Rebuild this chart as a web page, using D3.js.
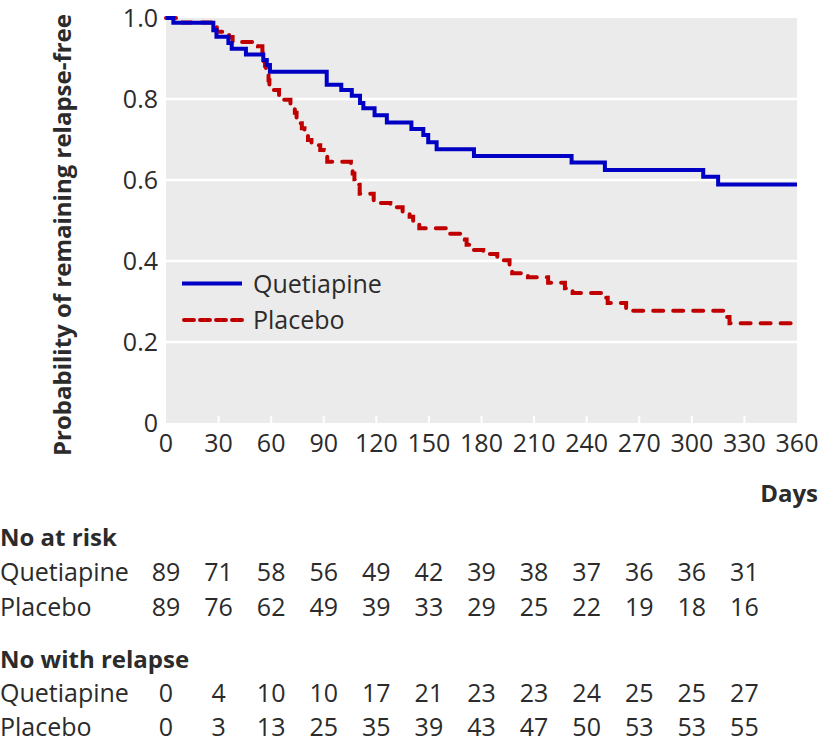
<!DOCTYPE html>
<html>
<head>
<meta charset="utf-8">
<script src="https://cdn.jsdelivr.net/npm/d3@7"></script>
<style>
  html, body { margin: 0; padding: 0; background: #fff; }
  svg { display: block; font-family: "Open Sans", "Noto Sans", sans-serif; }
</style>
</head>
<body>
<svg id="chart" width="820" height="744"></svg>
<script>
// ---- Data ----
const seriesNames = ["Quetiapine", "Placebo"];

const quetiapineDays = [0, 4.2, 27, 28.8, 35.6, 37.5, 45.6, 55.5, 57.5, 59.3, 91.7, 100, 106, 110.7, 112.6, 119, 126, 140, 146.8, 149.6, 154.4, 175.7, 231.4, 250.4, 306.5, 315, 360];
const quetiapineSurv = [1, 0.988, 0.970, 0.954, 0.938, 0.924, 0.910, 0.896, 0.884, 0.867, 0.835, 0.822, 0.808, 0.790, 0.777, 0.760, 0.742, 0.726, 0.711, 0.693, 0.676, 0.659, 0.643, 0.625, 0.608, 0.589, 0.589];

const placeboDays = [0, 8.5, 27, 29, 36, 38, 52.5, 55, 55.5, 56, 56.5, 57, 57.5, 58.5, 59, 60.5, 64.5, 67, 71, 73.5, 74.5, 75.5, 77.5, 79, 81, 83, 88, 90, 92, 105.5, 106.5, 107.5, 109.5, 110.5, 118.5, 128, 135, 139, 141, 144.5, 161.5, 170.5, 171.5, 174.5, 181, 189, 196, 197.5, 206.5, 218, 227.6, 232, 250.5, 252, 262.5, 319.5, 321.5, 360];
const placeboSurv = [1, 0.989, 0.978, 0.966, 0.953, 0.941, 0.930, 0.918, 0.906, 0.894, 0.882, 0.870, 0.858, 0.846, 0.835, 0.822, 0.808, 0.798, 0.780, 0.766, 0.753, 0.740, 0.728, 0.716, 0.699, 0.686, 0.674, 0.658, 0.645, 0.630, 0.616, 0.602, 0.588, 0.566, 0.543, 0.533, 0.521, 0.509, 0.490, 0.481, 0.467, 0.453, 0.440, 0.427, 0.417, 0.402, 0.386, 0.370, 0.360, 0.346, 0.333, 0.321, 0.309, 0.296, 0.277, 0.262, 0.246, 0.246];

const xTicks = [0, 30, 60, 90, 120, 150, 180, 210, 240, 270, 300, 330, 360];
const yTicks = [0, 0.2, 0.4, 0.6, 0.8, 1.0];
const yTickLabels = ["0", "0.2", "0.4", "0.6", "0.8", "1.0"];

const tableDays = [0, 30, 60, 90, 120, 150, 180, 210, 240, 270, 300, 330];
const atRiskQuetiapine = [89, 71, 58, 56, 49, 42, 39, 38, 37, 36, 36, 31];
const atRiskPlacebo = [89, 76, 62, 49, 39, 33, 29, 25, 22, 19, 18, 16];
const relapseQuetiapine = [0, 4, 10, 10, 17, 21, 23, 23, 24, 25, 25, 27];
const relapsePlacebo = [0, 3, 13, 25, 35, 39, 43, 47, 50, 53, 53, 55];

// ---- Layout ----
const svg = d3.select("#chart");
const pLeft = 166, pRight = 797, pTop = 18, pBottom = 423;
const x = d3.scaleLinear().domain([0, 360]).range([pLeft, pRight]);
const y = d3.scaleLinear().domain([0, 1]).range([pBottom, pTop]);
const textCol = "#2b2b2b";
const blue = "#0000c4", red = "#c00000";
const fs = 25;

// background
svg.append("rect").attr("x", pLeft).attr("y", pTop)
  .attr("width", pRight - pLeft).attr("height", pBottom - pTop).attr("fill", "#ebebeb");

// gridlines
svg.append("g").selectAll("line").data(yTicks.filter(d => d > 0 && d < 1)).join("line")
  .attr("x1", pLeft).attr("x2", pRight)
  .attr("y1", d => y(d)).attr("y2", d => y(d))
  .attr("stroke", "#fff").attr("stroke-width", 2.5);

// x ticks (white, inside)
svg.append("g").selectAll("line").data(xTicks.filter(d => d > 0 && d < 360)).join("line")
  .attr("x1", d => x(d)).attr("x2", d => x(d))
  .attr("y1", pBottom - 7).attr("y2", pBottom)
  .attr("stroke", "#fff").attr("stroke-width", 2);

// x tick labels
svg.append("g").selectAll("text").data(xTicks).join("text")
  .attr("x", d => x(d)).attr("y", 452)
  .attr("text-anchor", "middle").attr("font-size", fs).attr("fill", textCol)
  .text(d => d);

// y tick labels
svg.append("g").selectAll("text").data(yTicks).join("text")
  .attr("x", 158).attr("y", d => y(d)).attr("dy", "0.35em")
  .attr("text-anchor", "end").attr("font-size", fs).attr("fill", textCol)
  .text((d, i) => yTickLabels[i]);

// y axis title
svg.append("text")
  .attr("transform", "translate(71,235) rotate(-90)")
  .attr("text-anchor", "middle").attr("font-size", 24).attr("font-weight", "bold")
  .attr("fill", textCol)
  .text("Probability of remaining relapse-free");

// curves
const line = d3.line().x(d => x(d[0])).y(d => y(d[1])).curve(d3.curveStepAfter);
const qData = quetiapineDays.map((d, i) => [d, quetiapineSurv[i]]);
const pData = placeboDays.map((d, i) => [d, placeboSurv[i]]);

svg.append("path").datum(pData).attr("d", line)
  .attr("fill", "none").attr("stroke", red).attr("stroke-width", 4)
  .attr("stroke-dasharray", "10,10").attr("stroke-linecap", "round");
svg.append("path").datum(qData).attr("d", line)
  .attr("fill", "none").attr("stroke", blue).attr("stroke-width", 4);

// legend
const leg = svg.append("g");
leg.append("line").attr("x1", 182).attr("x2", 242).attr("y1", 283.5).attr("y2", 283.5)
  .attr("stroke", blue).attr("stroke-width", 4);
leg.append("line").attr("x1", 184).attr("x2", 242).attr("y1", 320).attr("y2", 320)
  .attr("stroke", red).attr("stroke-width", 4)
  .attr("stroke-dasharray", "10,6").attr("stroke-linecap", "round");
leg.append("text").attr("x", 253).attr("y", 293).attr("font-size", fs).attr("fill", textCol).text(seriesNames[0]);
leg.append("text").attr("x", 253).attr("y", 329).attr("font-size", fs).attr("fill", textCol).text(seriesNames[1]);

// Days label
svg.append("text").attr("x", 818).attr("y", 502).attr("text-anchor", "end")
  .attr("font-size", 24).attr("font-weight", "bold").attr("fill", textCol).text("Days");

// table
function header(txt, yy) {
  svg.append("text").attr("x", 0).attr("y", yy).attr("font-size", 24)
    .attr("font-weight", "bold").attr("fill", textCol).text(txt);
}
function row(name, vals, yy) {
  svg.append("text").attr("x", 0).attr("y", yy).attr("font-size", fs).attr("fill", textCol).text(name);
  svg.append("g").selectAll("text").data(vals).join("text")
    .attr("x", (d, i) => x(tableDays[i])).attr("y", yy)
    .attr("text-anchor", "middle").attr("font-size", fs).attr("fill", textCol)
    .text(d => d);
}
header("No at risk", 546);
row(seriesNames[0], atRiskQuetiapine, 581);
row(seriesNames[1], atRiskPlacebo, 616);
header("No with relapse", 668);
row(seriesNames[0], relapseQuetiapine, 702);
row(seriesNames[1], relapsePlacebo, 736);
</script>
</body>
</html>
